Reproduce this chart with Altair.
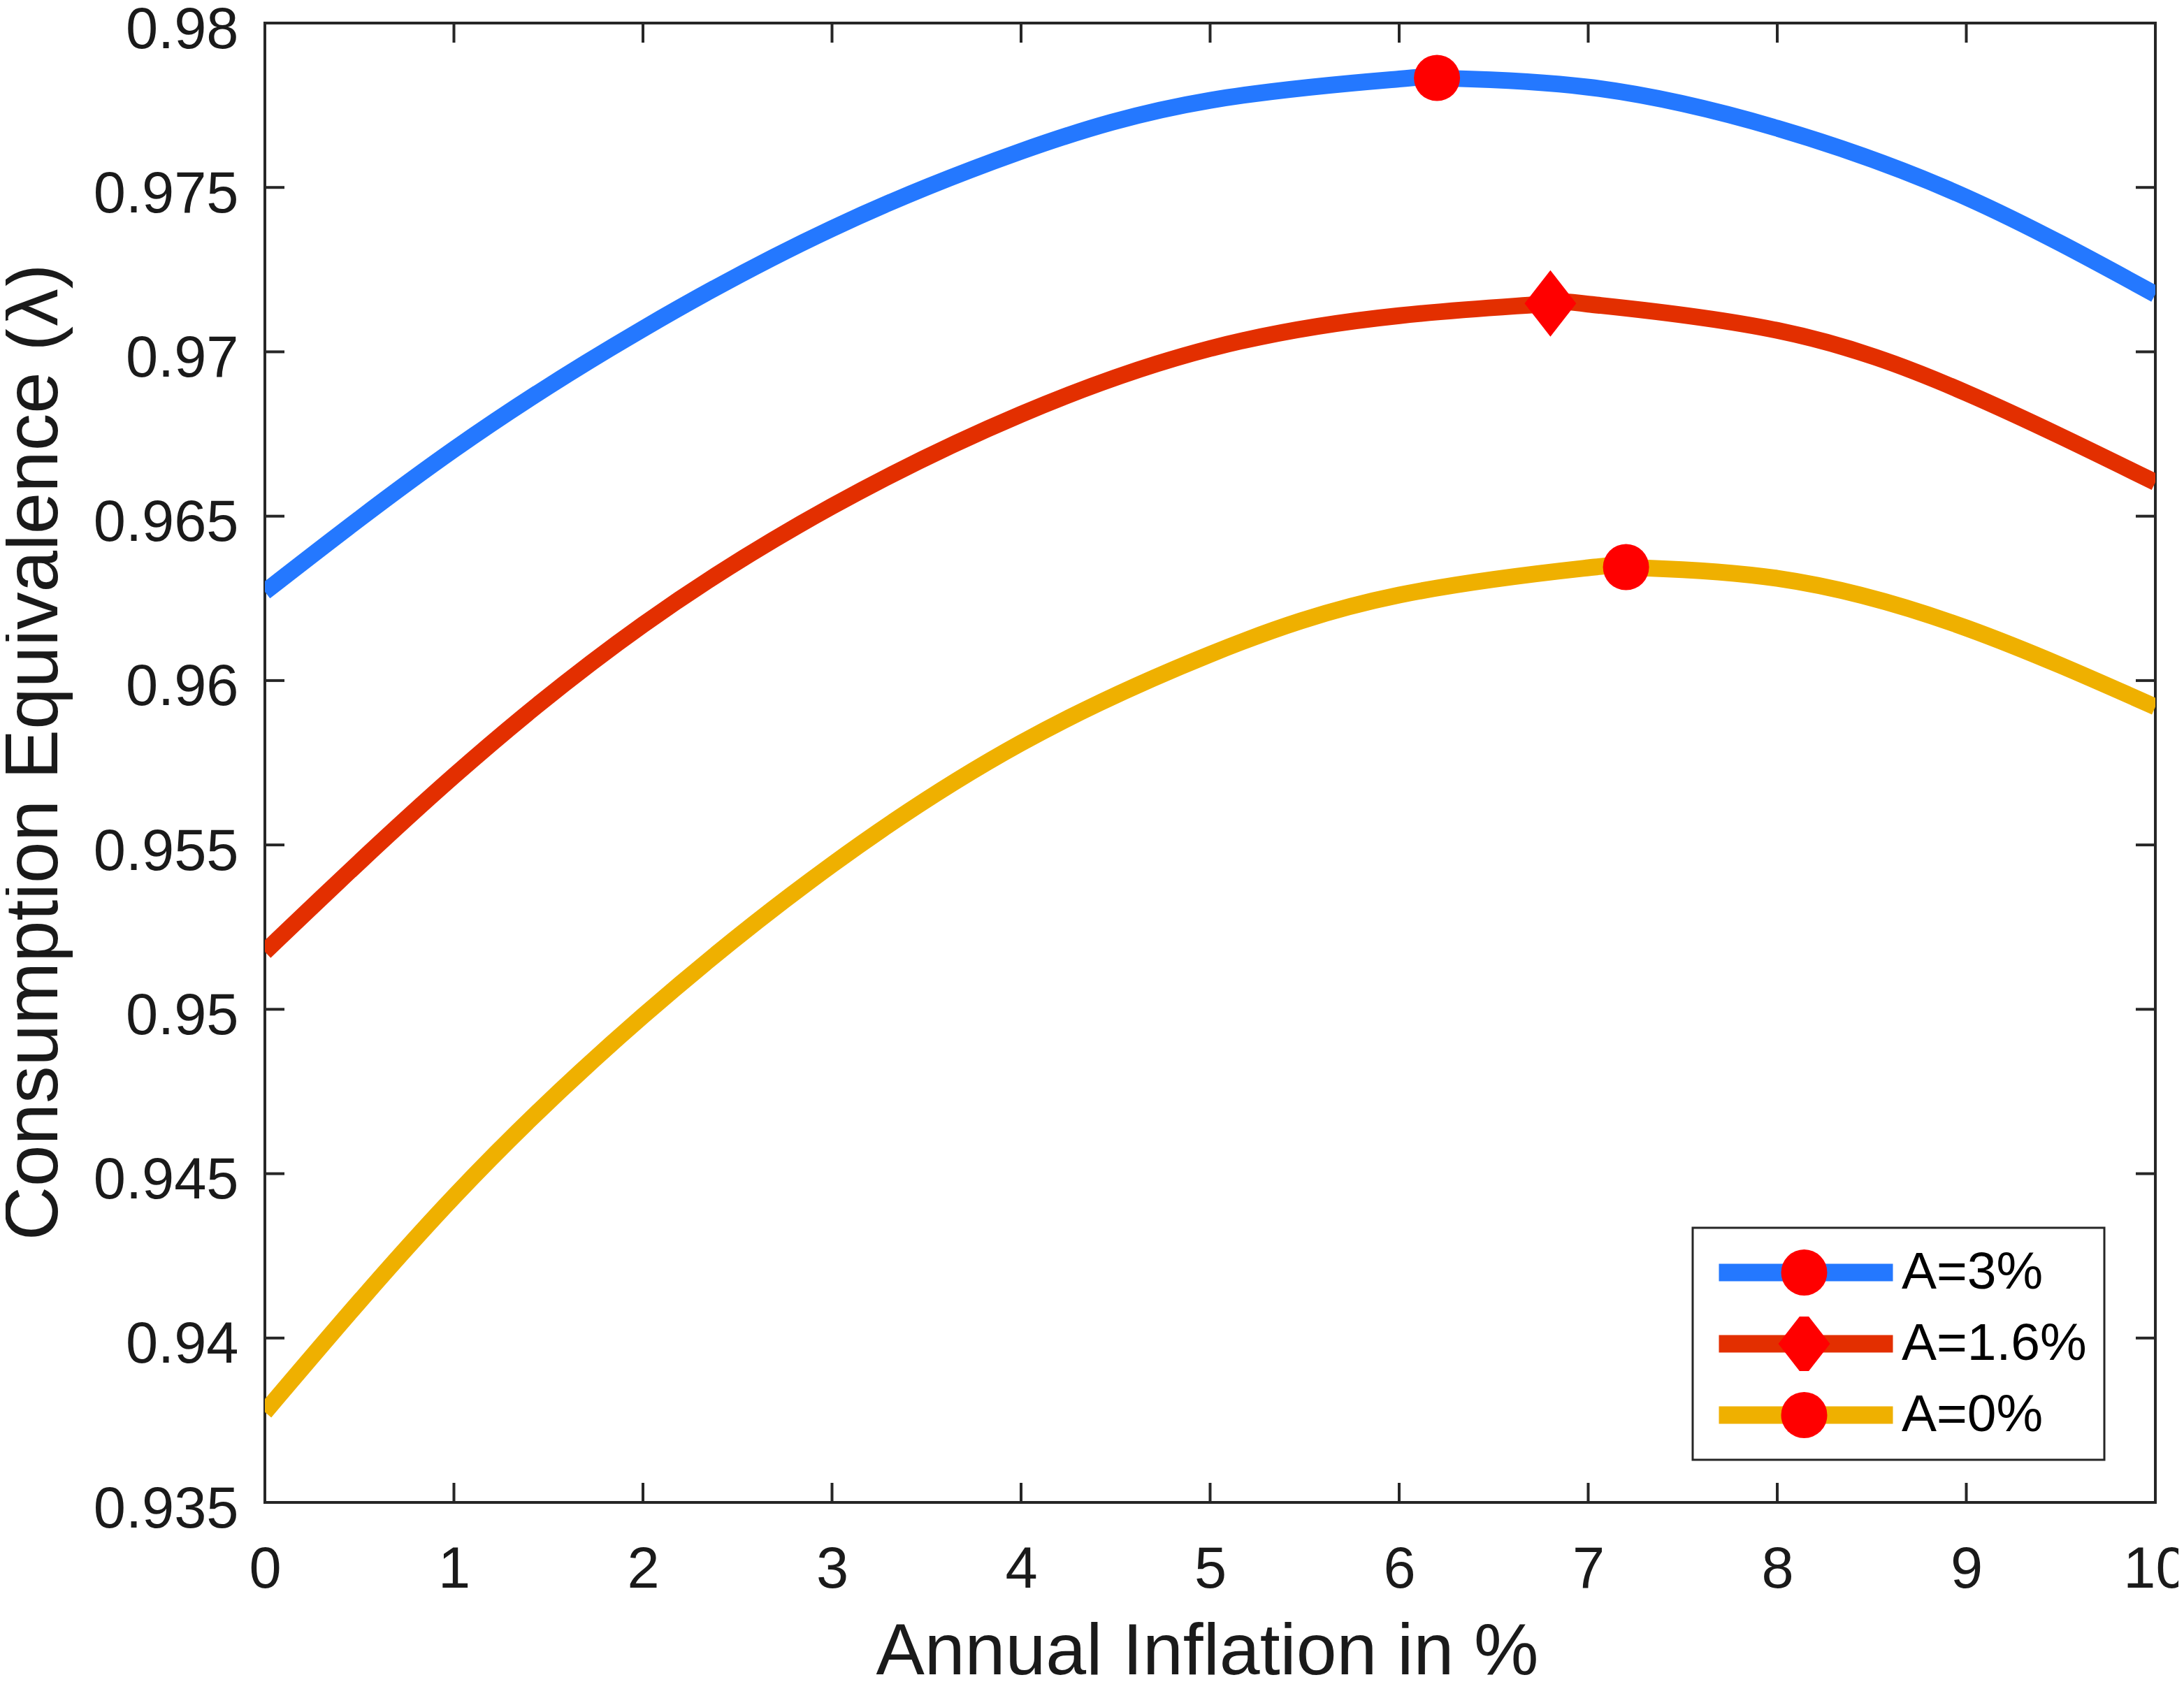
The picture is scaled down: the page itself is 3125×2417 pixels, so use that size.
import altair as alt
import pandas as pd

# ---- data ----
x_vals = [0, 1, 2, 3, 4, 5, 6, 7, 8, 9, 10]
a3_vals = [0.9627, 0.96703, 0.9707, 0.97375, 0.9761, 0.97765, 0.9783, 0.97805, 0.9768, 0.9747, 0.97175]
a16_vals = [0.95175, 0.9571, 0.9617, 0.9653, 0.9681, 0.9701, 0.9711, 0.97145, 0.97065, 0.96875, 0.96603]
a0_vals = [0.93775, 0.9443, 0.9498, 0.9544, 0.9581, 0.9608, 0.9626, 0.96343, 0.96311, 0.9616, 0.9592]

series_names = ["A=3%", "A=1.6%", "A=0%"]
series_colors = ["#2478FF", "#E32F00", "#EFB000"]

peak_x = [6.2, 6.8, 7.2]
peak_y = [0.97833, 0.97147, 0.96345]
peak_keys = ["p3", "p16", "p0"]

x_ticks = [0, 1, 2, 3, 4, 5, 6, 7, 8, 9, 10]
y_ticks = [0.935, 0.94, 0.945, 0.95, 0.955, 0.96, 0.965, 0.97, 0.975, 0.98]

# ---- tables ----
rows = []
for name, vals, px, py in zip(series_names, [a3_vals, a16_vals, a0_vals], peak_x, peak_y):
    pts = list(zip(x_vals, vals)) + [(px, py)]
    pts.sort()
    for xv, yv in pts:
        rows.append({"x": xv, "y": yv, "series": name})
lines_df = pd.DataFrame(rows)
peaks_df = pd.DataFrame({"x": peak_x, "y": peak_y, "peak": peak_keys})
xt_df = pd.DataFrame({"x": x_ticks})
yt_df = pd.DataFrame({"y": y_ticks})

W, H = 2705, 2117
TICK = 28
FONT = "Liberation Sans"
AX = "#262626"
DIAMOND = "M0,-1.44L1.12,0L0,1.44L-1.12,0Z"
LEG_X, LEG_Y = 2043, 1724

xscale = alt.Scale(domain=[0, 10], nice=False, zero=False)
yscale = alt.Scale(domain=[0.935, 0.98], nice=False, zero=False)

x_axis = alt.Axis(values=x_ticks, format="d", ticks=False, tickSize=0, domain=False, grid=False,
                  labelFontSize=83, labelPadding=121, labelBaseline="alphabetic", labelFlush=False,
                  labelOverlap=False, labelLimit=1000, title="Annual Inflation in %", titleFontSize=104,
                  titleX=1348, titleY=245, titleBaseline="alphabetic", titleAlign="center")
y_axis = alt.Axis(values=y_ticks, format="~g", ticks=False, tickSize=0, domain=False, grid=False,
                  labelFontSize=83, labelPadding=38, labelBaseline="alphabetic", labelOffset=35,
                  labelFlush=False, labelOverlap=False, labelLimit=1000,
                  title="Consumption Equivalence (λ)",
                  titleFontSize=107, titleX=-298, titleY=1043, titleBaseline="alphabetic",
                  titleAlign="center", titleAngle=270, titleLimit=3000)

lines = alt.Chart(lines_df).mark_line(strokeWidth=24, clip=True, interpolate="natural").encode(
    x=alt.X("x:Q", scale=xscale, axis=x_axis),
    y=alt.Y("y:Q", scale=yscale, axis=y_axis),
    color=alt.Color("series:N", title=None,
                    scale=alt.Scale(domain=series_names, range=series_colors),
                    legend=alt.Legend(orient="none", legendX=LEG_X, legendY=LEG_Y, direction="vertical",
                                      symbolType="stroke", symbolStrokeWidth=25, symbolSize=62001,
                                      symbolOffset=0, labelOffset=0, labelFontSize=75,
                                      labelFont=FONT, labelColor="#000000", labelLimit=1000,
                                      clipHeight=78, rowPadding=24, padding=25,
                                      fillColor="#FFFFFF", strokeColor=AX)),
    detail="series:N",
)

rule_style = dict(color=AX, strokeWidth=4)
bottom_ticks = alt.Chart(xt_df).mark_rule(**rule_style).encode(
    x=alt.X("x:Q", scale=xscale), y=alt.value(H), y2=alt.value(H - TICK))
top_ticks = alt.Chart(xt_df).mark_rule(**rule_style).encode(
    x=alt.X("x:Q", scale=xscale), y=alt.value(0), y2=alt.value(TICK))
left_ticks = alt.Chart(yt_df).mark_rule(**rule_style).encode(
    y=alt.Y("y:Q", scale=yscale), x=alt.value(0), x2=alt.value(TICK))
right_ticks = alt.Chart(yt_df).mark_rule(**rule_style).encode(
    y=alt.Y("y:Q", scale=yscale), x=alt.value(W), x2=alt.value(W - TICK))

points = alt.Chart(peaks_df).mark_point(filled=True, size=4356, color="#FF0000", opacity=1,
                                        strokeWidth=0).encode(
    x=alt.X("x:Q", scale=xscale),
    y=alt.Y("y:Q", scale=yscale),
    shape=alt.Shape("peak:N", title=None,
                    scale=alt.Scale(domain=peak_keys, range=["circle", DIAMOND, "circle"]),
                    legend=alt.Legend(orient="none", legendX=LEG_X, legendY=LEG_Y, direction="vertical",
                                      symbolSize=4356, symbolFillColor="#FF0000", symbolStrokeWidth=0,
                                      symbolOpacity=1, symbolOffset=97, labelExpr="''",
                                      labelFontSize=75, clipHeight=78, rowPadding=24, padding=25)),
)

chart = alt.layer(lines, bottom_ticks, top_ticks, left_ticks, right_ticks, points).properties(
    width=W, height=H,
    autosize=alt.AutoSizeParams(type="none"),
    padding={"left": 371, "top": 25, "right": 33, "bottom": 248},
).configure_view(
    stroke=AX, strokeWidth=4
).configure_axis(
    labelFont=FONT, titleFont=FONT, labelColor="#1a1a1a", titleColor="#1a1a1a",
    titleFontWeight="normal"
).configure_legend(
    strokeWidth=3
)

chart.save("out.html", embed_options={"renderer": "svg", "actions": False})
